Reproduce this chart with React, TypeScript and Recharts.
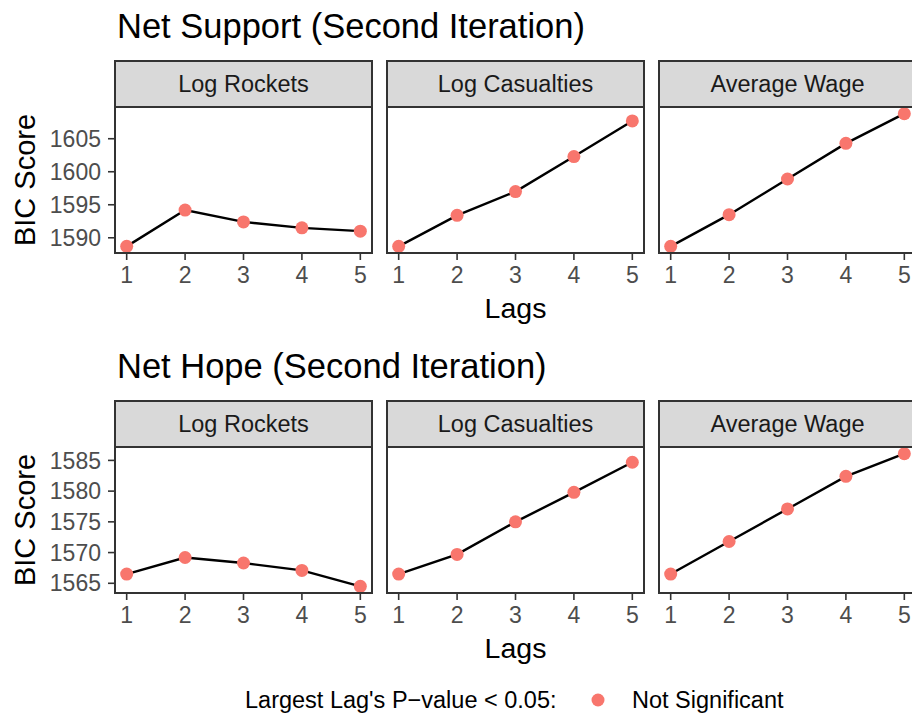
import React from "react";
import { LineChart, Line, XAxis, YAxis } from "recharts";

// ---- data ----
const lags = [1, 2, 3, 4, 5];

const supportRockets = [1588.7, 1594.2, 1592.4, 1591.5, 1591.0];
const supportCasualties = [1588.7, 1593.4, 1597.0, 1602.3, 1607.7];
const supportWage = [1588.7, 1593.5, 1598.9, 1604.3, 1608.8];

const hopeRockets = [1566.5, 1569.2, 1568.3, 1567.1, 1564.5];
const hopeCasualties = [1566.5, 1569.7, 1575.0, 1579.8, 1584.7];
const hopeWage = [1566.5, 1571.8, 1577.1, 1582.4, 1586.1];

const facetNames = ["Log Rockets", "Log Casualties", "Average Wage"];
const rowTitles = ["Net Support (Second Iteration)", "Net Hope (Second Iteration)"];
const supportTicks = [1590, 1595, 1600, 1605];
const hopeTicks = [1565, 1570, 1575, 1580, 1585];

const legendTitle = "Largest Lag's P\u2212value < 0.05:";
const legendLabel = "Not Significant";

// ---- look ----
const FONT = '"Liberation Sans", Arial, Helvetica, sans-serif';
const POINT = "#F8766D";
const DARK = "#333333";

const COL_X = [115, 387, 659];
const PANEL_W = 257;
const PLOT_H = 146;
const STRIP_H = 46;
const ROW_OFFSET = 340;
const PLOT_TOP = 107;
const Y_AXIS_W = 70;
const X_AXIS_H = 50;

const rows = [
  { title: rowTitles[0], series: [supportRockets, supportCasualties, supportWage], ticks: supportTicks },
  { title: rowTitles[1], series: [hopeRockets, hopeCasualties, hopeWage], ticks: hopeTicks },
];

// ggplot-style 5% expansion of the shared (fixed) y scale
function expand(vals: number[]): [number, number] {
  const lo = Math.min(...vals);
  const hi = Math.max(...vals);
  const pad = (hi - lo) * 0.05;
  return [lo - pad, hi + pad];
}

const xDomain: [number, number] = [1 - 0.2, 5 + 0.2];

function Panel({ values, domain, ticks, showY, left, top }: any) {
  const data = lags.map((lag, i) => ({ lag, bic: values[i] }));
  const width = PANEL_W + (showY ? Y_AXIS_W : 0);
  return (
    <div style={{ position: "absolute", left: showY ? left - Y_AXIS_W : left, top }}>
      <LineChart
        width={width}
        height={PLOT_H + X_AXIS_H}
        data={data}
        margin={{ top: 0, right: 0, bottom: 0, left: 0 }}
      >
        <XAxis
          dataKey="lag"
          type="number"
          domain={xDomain}
          ticks={lags}
          interval={0}
          height={X_AXIS_H}
          axisLine={false}
          tickLine={{ stroke: DARK, strokeWidth: 1.6 }}
          tickSize={7}
          tickMargin={7}
          tick={{ fill: "#4D4D4D", fontSize: 23, fontFamily: FONT }}
        />
        <YAxis
          type="number"
          domain={domain}
          ticks={ticks}
          interval={0}
          allowDataOverflow
          hide={!showY}
          width={Y_AXIS_W}
          axisLine={false}
          tickLine={{ stroke: DARK, strokeWidth: 1.6 }}
          tickSize={7}
          tickMargin={7}
          tick={{ fill: "#4D4D4D", fontSize: 23, fontFamily: FONT }}
        />
        <Line
          dataKey="bic"
          type="linear"
          stroke="none"
          dot={{ r: 6.5, fill: POINT, stroke: "none" }}
          isAnimationActive={false}
        />
        <Line
          dataKey="bic"
          type="linear"
          stroke="#000000"
          strokeWidth={2.4}
          dot={false}
          isAnimationActive={false}
        />
      </LineChart>
    </div>
  );
}

export default function App() {
  return (
    <div
      style={{
        position: "absolute",
        left: 0,
        top: 0,
        width: 912,
        height: 713,
        overflow: "hidden",
        background: "#FFFFFF",
        fontFamily: FONT,
      }}
    >
      {rows.map((row, r) => {
        const domain = expand(row.series.flat());
        const top = PLOT_TOP + r * ROW_OFFSET;
        return row.series.map((vals, c) => (
          <Panel
            key={`${r}-${c}`}
            values={vals}
            domain={domain}
            ticks={row.ticks}
            showY={c === 0}
            left={COL_X[c]}
            top={top}
          />
        ));
      })}

      {/* strips, borders and titles drawn like ggplot's theme_bw */}
      <svg
        width={912}
        height={713}
        style={{ position: "absolute", left: 0, top: 0, pointerEvents: "none" }}
      >
        {rows.map((row, r) => {
          const top = PLOT_TOP + r * ROW_OFFSET;
          return (
            <g key={r}>
              <text x={117} y={38 + r * ROW_OFFSET} fontSize={34.5} fontFamily={FONT} fill="#000">
                {row.title}
              </text>
              {COL_X.map((x, c) => (
                <g key={c}>
                  <rect
                    x={x}
                    y={top - STRIP_H}
                    width={PANEL_W}
                    height={STRIP_H}
                    fill="#D9D9D9"
                    stroke={DARK}
                    strokeWidth={2}
                  />
                  <text
                    x={x + PANEL_W / 2}
                    y={top - STRIP_H / 2 + 8}
                    textAnchor="middle"
                    fontSize={23.5}
                    fontFamily={FONT}
                    fill="#1A1A1A"
                  >
                    {facetNames[c]}
                  </text>
                  <rect x={x} y={top} width={PANEL_W} height={PLOT_H} fill="none" stroke={DARK} strokeWidth={2} />
                </g>
              ))}
              <text
                x={(COL_X[0] + COL_X[2] + PANEL_W) / 2}
                y={318 + r * ROW_OFFSET}
                textAnchor="middle"
                fontSize={28.5}
                fontFamily={FONT}
                fill="#000"
              >
                Lags
              </text>
              <text
                transform={`translate(35, ${top + PLOT_H / 2}) rotate(-90)`}
                textAnchor="middle"
                fontSize={29}
                fontFamily={FONT}
                fill="#000"
              >
                BIC Score
              </text>
            </g>
          );
        })}
        <text x={245} y={708} fontSize={23.5} fontFamily={FONT} fill="#000">
          {legendTitle}
        </text>
        <circle cx={598} cy={700} r={6.5} fill={POINT} />
        <text x={632} y={708} fontSize={23.5} fontFamily={FONT} fill="#000">
          {legendLabel}
        </text>
      </svg>
    </div>
  );
}
